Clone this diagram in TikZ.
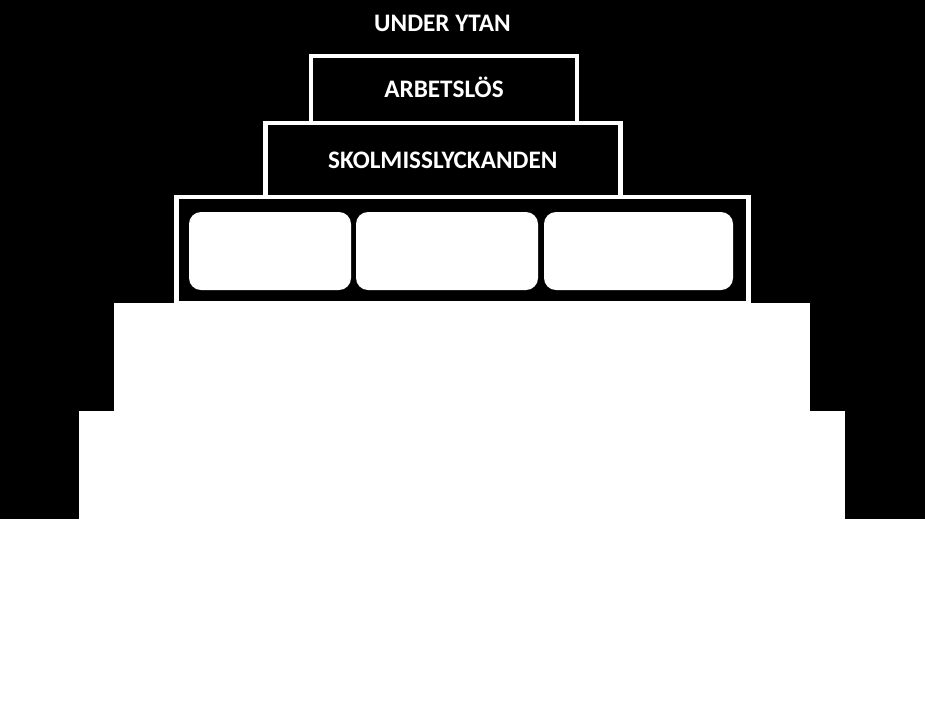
\documentclass[tikz,border=0pt]{standalone}
\usepackage{fontspec}
\setmainfont{Carlito}
\usetikzlibrary{positioning}

\tikzset{
    rubrik/.style = {text=white, font=\bfseries\fontsize{25.2}{30}\selectfont,
        text height=16.2pt, text depth=0pt},
    ram/.style = {draw=white, line width=4.5pt, fill=black, inner sep=0pt},
    faktor/.style = {fill=white, rounded corners=12pt, minimum height=78pt, inner sep=0pt},
    steg/.style = {fill=white, minimum height=108pt, inner sep=0pt}
}

\begin{document}
\begin{tikzpicture}[x=1pt, y=-1pt]
    \useasboundingbox (0,0) rectangle (925,716);
    \fill[black] (0,0) rectangle (925,519);

    \node[rubrik] (Ytan) at (442.5,23) {UNDER YTAN};

    % pyramidens block
    \node[ram, rubrik, minimum width=266pt, minimum height=67pt]
        (Arbetslos) at (444,89.5) {ARBETSLÖS};
    \node[ram, rubrik, minimum width=355pt, minimum height=74pt]
        (Skol) at (442.75,160) {SKOLMISSLYCKANDEN};
    \node[ram, minimum width=572pt, minimum height=106pt]
        (Grund) at (462.5,250) {};

    \node[faktor, minimum width=162pt] (FaktorA) at (270,251) {};
    \node[faktor, minimum width=182pt] (FaktorB) at (447,251) {};
    \node[faktor, minimum width=189pt] (FaktorC) at (638.5,251) {};

    % vita trappsteg
    \node[steg, minimum width=696pt] (StegA) at (462,357) {};
    \node[steg, minimum width=766pt] (StegB) at (462,465) {};
\end{tikzpicture}
\end{document}
